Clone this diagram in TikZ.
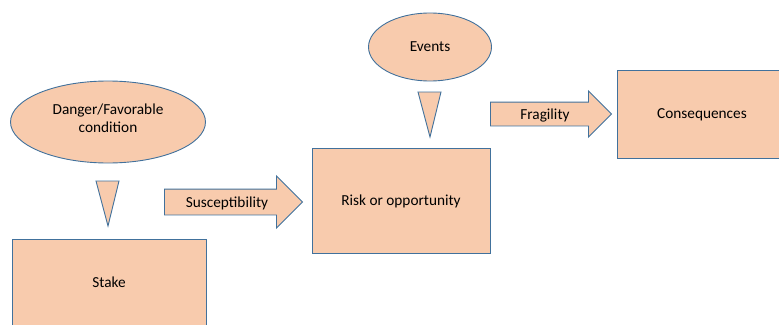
\documentclass[tikz,border=0pt]{standalone}
\usepackage{fontspec}
\setmainfont{Carlito}
\usetikzlibrary{shapes.geometric, shapes.arrows, positioning}

\definecolor{peach}{RGB}{248,203,173}
\definecolor{edgeblue}{RGB}{65,113,156}

\tikzset{
  blk/.style={draw=edgeblue, fill=peach, line width=0.9pt},
  cond/.style={blk, ellipse, inner sep=0pt},
  box/.style={blk, rectangle, inner sep=0pt, text height=11pt, text depth=2pt},
  flow/.style={blk, single arrow, single arrow head extend=13pt, inner sep=0pt,
    shape border rotate=0, anchor=tail},
}

\begin{document}
\begin{tikzpicture}[x=1pt, y=-1pt, font=\fontsize{15.3}{18}\selectfont]
    \useasboundingbox (0,0) rectangle (779,324);
    \clip (0,0) rectangle (779,324);
    \node[cond, minimum width=195pt, minimum height=82pt,
      label={[align=center, yshift=4pt]center:Danger/Favorable\\condition}] (danger) at (108,122) {};
    \node[box, minimum width=194pt, minimum height=88pt] (stake) at (109,283) {Stake};
    \node[cond, minimum width=123pt, minimum height=68pt] (events) at (430,47) {Events};
    \node[box, minimum width=178pt, minimum height=105pt] (risk) at (401,201) {Risk or opportunity};
    \node[box, minimum width=170pt, minimum height=88pt] (cons) at (702,114) {Consequences};
	% triangles
	\draw[blk] (96,181) -- (119,181) -- (108,226) -- cycle;
	\draw[blk] (418,92) -- (441,92) -- (430,137) -- cycle;
	% block arrows
    \node[flow, minimum height=138pt, minimum width=51pt, text height=17.5pt, text depth=7.5pt] (susc) at (164,202) {Susceptibility};
    \node[flow, minimum height=121pt, minimum width=45pt, single arrow head extend=11pt, text height=16.5pt, text depth=6.5pt] (frag) at (490,114) {Fragility};
\end{tikzpicture}
\end{document}
